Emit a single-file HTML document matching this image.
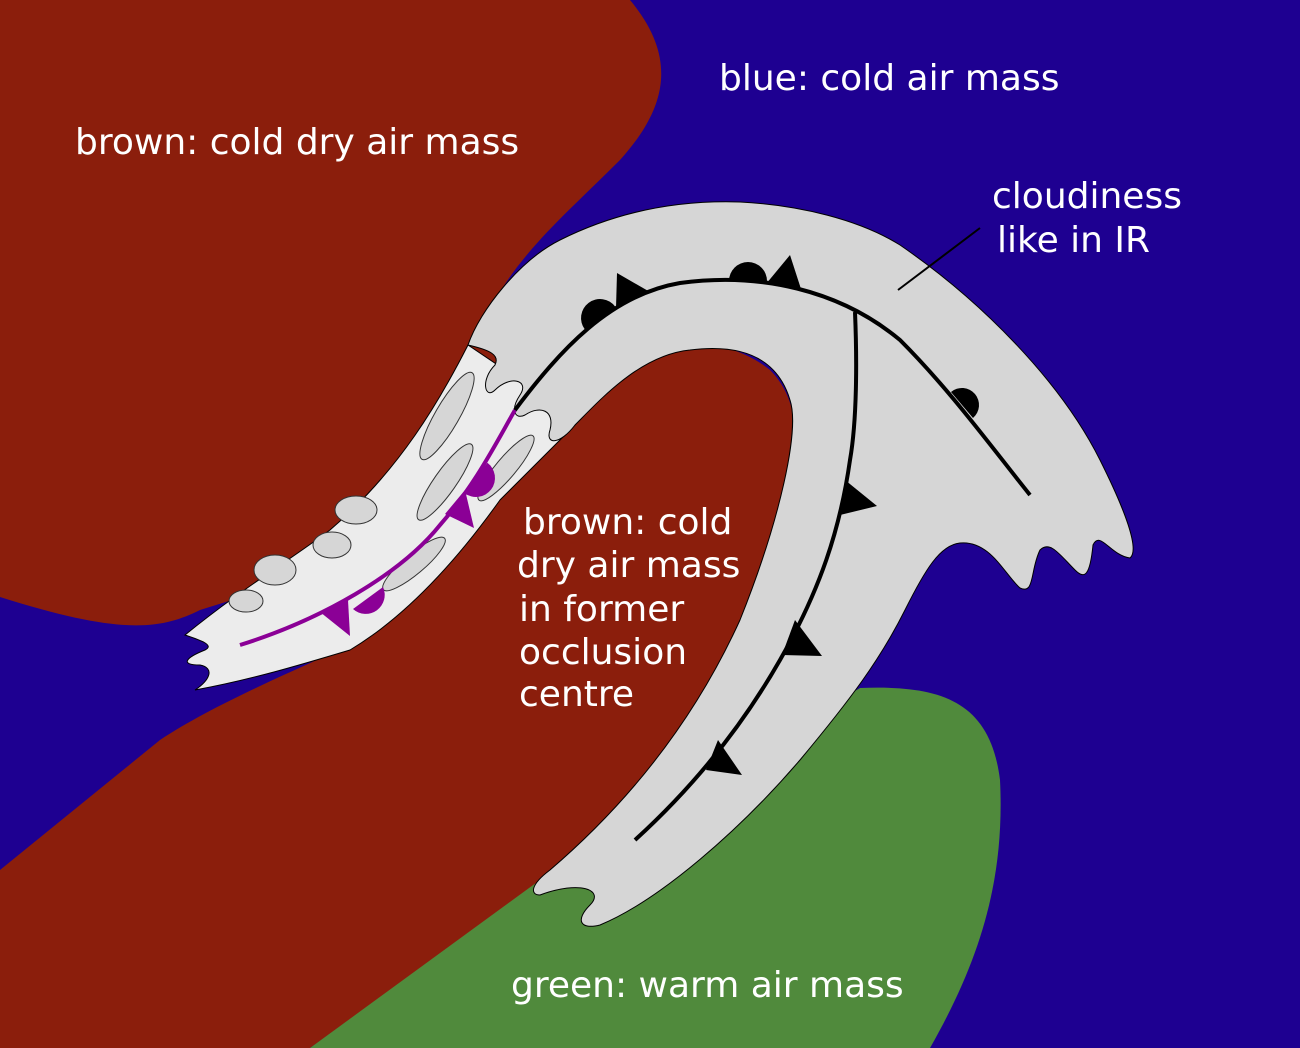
<!DOCTYPE html>
<html><head><meta charset="utf-8"><style>html,body{margin:0;padding:0;background:#1e0091}svg{display:block}text{font-family:"DejaVu Sans","Liberation Sans",sans-serif;font-size:36px;fill:#fff}</style></head><body>
<svg width="1300" height="1048" viewBox="0 0 1300 1048" xmlns="http://www.w3.org/2000/svg">
<rect width="1300" height="1048" fill="#1e0091"/>
<path d="M0,0 L630,0 C680,60 665,110 620,160 C560,220 510,260 480,330 L520,390 L360,560 L200,610 C160,630 120,635 0,597 Z" fill="#8b1e0c"/>
<path d="M0,870 L160,740 C220,700 320,660 360,640 L470,520 L600,380 C650,340 720,330 770,370 C810,410 800,480 760,590 C720,700 650,800 560,870 L310,1048 L0,1048 Z" fill="#8b1e0c"/>
<path d="M310,1048 L540,880 L860,688 C940,685 990,700 1000,780 C1005,880 980,960 930,1048 Z" fill="#508a3c"/>
<path d="M468,345 C440,400 400,470 330,530 C290,560 240,590 185,635 C200,640 215,645 205,650 C185,658 180,665 200,665 C215,668 210,680 195,690 C250,680 300,665 350,650 C400,620 450,570 500,500 L575,425 L520,380 Z" fill="#ececec" stroke="#000" stroke-width="1"/>
<path d="M468,345 C480,310 520,260 560,240 C620,210 680,200 740,202 C800,205 860,220 900,245 C980,300 1060,380 1100,460 C1125,510 1140,550 1130,558 C1110,555 1100,530 1093,545 C1090,575 1085,580 1075,570 C1060,555 1050,540 1040,550 C1030,570 1035,595 1020,588 C1005,575 990,540 960,543 C940,545 925,570 905,610 C880,660 850,700 800,760 C740,830 660,900 600,925 C580,930 575,920 590,905 C605,890 580,880 540,895 C530,895 530,885 550,870 C620,810 690,730 740,620 C780,520 800,430 790,400 C775,350 730,345 690,350 C640,355 600,400 575,425 C560,445 545,445 550,430 C555,410 540,405 525,415 C515,420 510,410 520,395 C530,380 510,375 495,390 C485,400 480,380 495,365 C500,355 490,350 468,345 Z" fill="#d6d6d6" stroke="#000" stroke-width="1"/>
<g fill="#d6d6d6" stroke="#333" stroke-width="1">
<ellipse cx="356" cy="510" rx="21" ry="14"/><ellipse cx="332" cy="545" rx="19" ry="13"/><ellipse cx="275" cy="570" rx="21" ry="15"/><ellipse cx="246" cy="601" rx="17" ry="11"/>
<ellipse cx="447" cy="416" rx="50" ry="12" transform="rotate(-60 447 416)"/>
<ellipse cx="445" cy="482" rx="46" ry="11" transform="rotate(-55 445 482)"/>
<ellipse cx="506" cy="468" rx="42" ry="10" transform="rotate(-50 506 468)"/>
<ellipse cx="414" cy="564" rx="40" ry="10" transform="rotate(-40 414 564)"/>
</g>
<path d="M240,645 C320,620 400,575 440,525 C475,485 495,445 515,410" fill="none" stroke="#8b0096" stroke-width="4"/>
<g fill="#8b0096">
<path d="M353,609 A19,19 0 0 0 383,587 Z"/><path d="M464.6,493.2 A19,19 0 0 0 487.4,462.8 Z"/>
<polygon points="320,612 348,600 350,636"/><polygon points="445,514 465,490 474,528"/></g>
<path d="M515,410 C560,350 610,295 680,283 C760,272 840,290 900,340 C950,390 990,445 1030,495" fill="none" stroke="#000" stroke-width="4"/>
<g fill="#000">
<path d="M584.8,329.4 A19,19 0 0 1 615.2,306.6 Z"/>
<path d="M729,281 A19,19 0 0 1 767,281 Z"/>
<path d="M951,392 A17,17 0 0 1 973,418 Z"/>
<polygon points="616,308 617,273 650,292"/><polygon points="766,284 790,255 801,289"/></g>
<path d="M855,312 C857,360 857,420 850,460 C840,530 820,590 780,660 C740,730 690,790 635,840" fill="none" stroke="#000" stroke-width="4"/>
<g fill="#000"><polygon points="845,480 877,506 840,515"/><polygon points="795,620 822,656 782,655"/><polygon points="718,740 742,775 706,770"/></g>
<line x1="980" y1="228" x2="898" y2="290" stroke="#000" stroke-width="2"/>
<text x="75" y="154">brown: cold dry air mass</text>
<text x="719" y="90">blue: cold air mass</text>
<text x="992" y="208">cloudiness</text>
<text x="997" y="252">like in IR</text>
<text x="523" y="534">brown: cold</text>
<text x="517" y="577">dry air mass</text>
<text x="519" y="621">in former</text>
<text x="519" y="664">occlusion</text>
<text x="519" y="706">centre</text>
<text x="511" y="997">green: warm air mass</text>
</svg>
</body></html>
